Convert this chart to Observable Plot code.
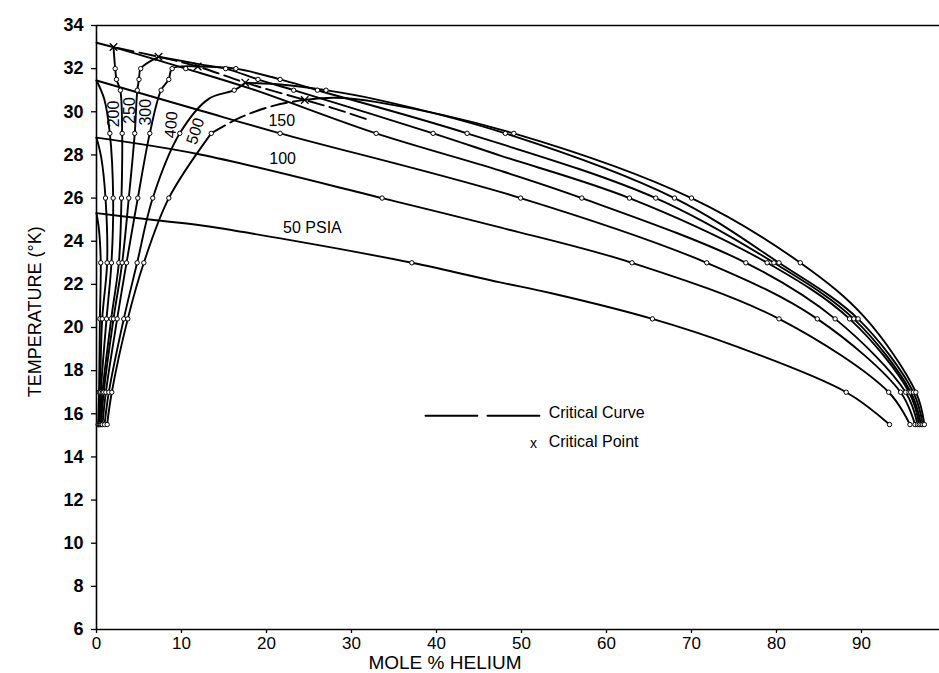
<!DOCTYPE html>
<html><head><meta charset="utf-8">
<script src="https://cdn.jsdelivr.net/npm/d3@7"></script>
<script src="https://cdn.jsdelivr.net/npm/@observablehq/plot@0.6"></script>
<style>
html,body{margin:0;padding:0;background:#fff;}
#chart svg{display:block;}
#chart g[aria-label="y-axis tick label"] text{font-size:18px;font-weight:bold;}
#chart g[aria-label="x-axis tick label"] text{font-size:17px;}
</style></head><body><div id="chart"></div>
<script>
// ---- data (mole % helium, temperature K) ----
const isotherms = [15.5, 17.0, 20.4, 23.0, 26.0, 29.0, 31.0, 31.5, 32.0];
const xTicks = [0, 10, 20, 30, 40, 50, 60, 70, 80, 90];
const yTicks = [6, 8, 10, 12, 14, 16, 18, 20, 22, 24, 26, 28, 30, 32, 34];

const bubble50 = [[0.2,15.5],[0.3,17.0],[0.4,20.4],[0.5,23.0],[0.3,24.5],[0,25.3]];
const dew50 = [[0,25.3],[7,24.97],[12,24.75],[22.8,24.05],[37.1,23.0],[47.5,22.09],[53.4,21.6],[65.4,20.4],[75,19.16],[88.2,17.0],[93.3,15.5]];

const bubble100 = [[0.25,15.5],[0.4,17.0],[0.67,20.4],[1.25,23.0],[1.06,26.0],[0.55,27.9],[0,28.8]];
const dew100 = [[0,28.8],[12.2,28.02],[33.6,26.0],[47.5,24.64],[63.0,23.0],[80.3,20.4],[93.2,17.0],[95.7,15.5]];

const bubble150 = [[0.35,15.5],[0.5,17.0],[1.18,20.4],[1.76,23.0],[1.96,26.0],[1.57,29.0],[0.9,30.6],[0,31.45]];
const dew150 = [[0,31.45],[12.2,30.06],[21.6,29.0],[49.9,26.0],[71.8,23.0],[84.8,20.4],[94.6,17.0],[96.3,15.5]];

const bubble200 = [[0.45,15.5],[0.7,17.0],[1.73,20.4],[2.63,23.0],[2.94,26.0],[3.02,29.0],[2.8,31.0],[2.35,31.5],[2.2,32.0],[2.0,33.0]];
const dew200 = [[2.0,33.0],[10.5,32.0],[18.3,31.05],[32.9,29.0],[47.5,27.27],[57.1,26.0],[76.4,23.0],[86.9,20.4],[95.2,17.0],[96.6,15.5]];

const bubble250 = [[0.55,15.5],[0.85,17.0],[2.0,20.4],[3.02,23.0],[3.8,26.0],[4.5,29.0],[4.8,31.0],[5.0,31.5],[5.2,32.0],[7.3,32.55]];
const dew250 = [[7.3,32.55],[12.2,32.2],[15.2,32.0],[19.0,31.5],[23.2,31.0],[39.6,29.0],[47.5,27.97],[62.7,26.0],[78.9,23.0],[88.6,20.4],[95.6,17.0],[96.8,15.5]];

const bubble300 = [[0.7,15.5],[1.1,17.0],[2.43,20.4],[3.53,23.0],[4.86,26.0],[6.27,29.0],[7.6,31.0],[8.5,31.5],[8.9,32.0],[11.9,32.1]];
const dew300 = [[11.9,32.1],[16.4,32.0],[21.6,31.5],[26.0,31.0],[43.6,29.0],[65.8,26.0],[79.7,23.0],[89.1,20.4],[95.8,17.0],[97.0,15.5]];

const bubble400 = [[0.95,15.5],[1.45,17.0],[3.21,20.4],[4.78,23.0],[6.62,26.0],[9.8,29.0],[13.2,30.6],[16.2,31.0],[17.5,31.35]];
const dew400 = [[17.5,31.35],[22,31.25],[27,31.0],[32.6,30.6],[48.1,29.0],[68,26.0],[80.3,23.0],[89.6,20.4],[96.1,17.0],[97.2,15.5]];

const bubble500 = [[1.25,15.5],[1.8,17.0],[3.68,20.4],[5.57,23.0],[8.51,26.0],[13.5,29.0]];
const bubble500Extrapolated = [[13.5,29.0],[17,29.75],[21,30.3],[24.5,30.55]];
const dew500 = [[24.5,30.55],[28,30.65],[33,30.45],[49.1,29.0],[70.0,26.0],[82.8,23.0],[90.3,20.5],[96.4,17.0],[97.4,15.5]];

const criticalCurve = [[0,33.2],[2.0,33.0],[7.3,32.55],[11.9,32.1],[17.5,31.35],[24.5,30.55],[28,30.15],[32.2,29.6]];
const criticalPoints = [[2.0,33.0],[7.3,32.55],[11.9,32.1],[17.5,31.35],[24.5,30.55]];

const isobarLabels = ["50 PSIA","100","150","200","250","300","400","500"];
const labelX = [25.4, 21.9, 21.8, 2.04, 3.9, 5.76, 8.8, 11.65];
const labelT = [24.63, 27.8, 29.6, 29.9, 30.06, 29.98, 29.4, 29.1];
const labelAngle = [0, 0, 0, -90, -90, -90, -85, -72];

const legendCurveX = [38.7, 52.2];
const legendCurveT = 15.91;
const legendTextX = 53.2;
const legendMarkX = 51.4;
const legendTexts = ["Critical Curve", "Critical Point"];
const legendTextT = [16.06, 14.7];
const legendMarkT = 14.6;

// ---- build tables ----
const solidSeries = [
  ["b50", bubble50], ["d50", dew50], ["b100", bubble100], ["d100", dew100],
  ["b150", bubble150], ["d150", dew150], ["b200", bubble200], ["d200", dew200],
  ["b250", bubble250], ["d250", dew250], ["b300", bubble300], ["d300", dew300],
  ["b400", bubble400], ["d400", dew400], ["b500", bubble500], ["d500", dew500]
];
const solidRows = solidSeries.flatMap(([id, pts]) => pts.map(([x, y]) => ({x, y, id})));
const circleRows = [];
const seen = new Set();
for (const [id, pts] of solidSeries) for (const [x, y] of pts) {
  if (!isotherms.includes(y)) continue;
  const k = x + "," + y; if (seen.has(k)) continue; seen.add(k);
  circleRows.push({x, y});
}
const dashedRows = bubble500Extrapolated.map(([x, y]) => ({x, y}));
const critRows = criticalCurve.map(([x, y]) => ({x, y}));
const critPtRows = criticalPoints.map(([x, y]) => ({x, y}));
const labelRows = isobarLabels.map((t, i) => ({t, x: labelX[i], y: labelT[i], a: labelAngle[i]}));

const chart = Plot.plot({
  width: 939, height: 673,
  marginLeft: 96, marginRight: 0, marginTop: 25, marginBottom: 44,
  style: {fontFamily: "'Liberation Sans', Arial, sans-serif", background: "white", color: "black", overflow: "visible"},
  x: {domain: [0, 99.18]},
  y: {domain: [6, 34]},
  marks: [
    Plot.axisX({ticks: xTicks, tickSize: 4, tickPadding: 3, label: null, strokeWidth: 1.3}),
    Plot.axisY({ticks: yTicks, tickSize: 5, tickPadding: 8, label: null, strokeWidth: 1.3}),
    Plot.ruleX([0], {y1: 6, y2: 34, stroke: "black", strokeWidth: 1.6}),
    Plot.ruleY([6, 34], {stroke: "black", strokeWidth: 1.6}),
    Plot.line(solidRows, {x: "x", y: "y", z: "id", curve: "catmull-rom", stroke: "black", strokeWidth: 1.9}),
    Plot.line(dashedRows, {x: "x", y: "y", curve: "catmull-rom", stroke: "black", strokeWidth: 1.9, strokeDasharray: "16,6"}),
    Plot.line(critRows, {x: "x", y: "y", curve: "catmull-rom", stroke: "black", strokeWidth: 1.9, strokeDasharray: "16,6"}),
    Plot.dot(circleRows, {x: "x", y: "y", r: 2.2, fill: "white", stroke: "black", strokeWidth: 1}),
    Plot.dot(critPtRows, {x: "x", y: "y", symbol: "times", r: 3.5, stroke: "black", strokeWidth: 1.3}),
    Plot.text(labelRows, {x: "x", y: "y", text: "t", rotate: "a", fontSize: 16, fill: "black"}),
    Plot.line(legendCurveX.map(x => ({x, y: legendCurveT})), {x: "x", y: "y", stroke: "black", strokeWidth: 1.8, strokeDasharray: "52,10"}),
    Plot.text(legendTexts.map((t, i) => ({t, y: legendTextT[i]})), {x: () => legendTextX, y: "y", text: "t", textAnchor: "start", fontSize: 16, fill: "black"}),
    Plot.text([{t: "x"}], {x: () => legendMarkX, y: () => legendMarkT, text: "t", fontSize: 14, fill: "black"}),
    Plot.text([{t: "MOLE % HELIUM"}], {x: () => 41, y: () => 6, dy: 33, text: "t", fontSize: 19, fill: "black", style: {letterSpacing: "2.5px"}}),
    Plot.text([{t: "TEMPERATURE (°K)"}], {x: () => 0, y: () => 20.73, dx: -61, rotate: -90, text: "t", fontSize: 18, fill: "black", style: {letterSpacing: "2.2px"}})
  ]
});
document.getElementById("chart").appendChild(chart);
</script></body></html>
